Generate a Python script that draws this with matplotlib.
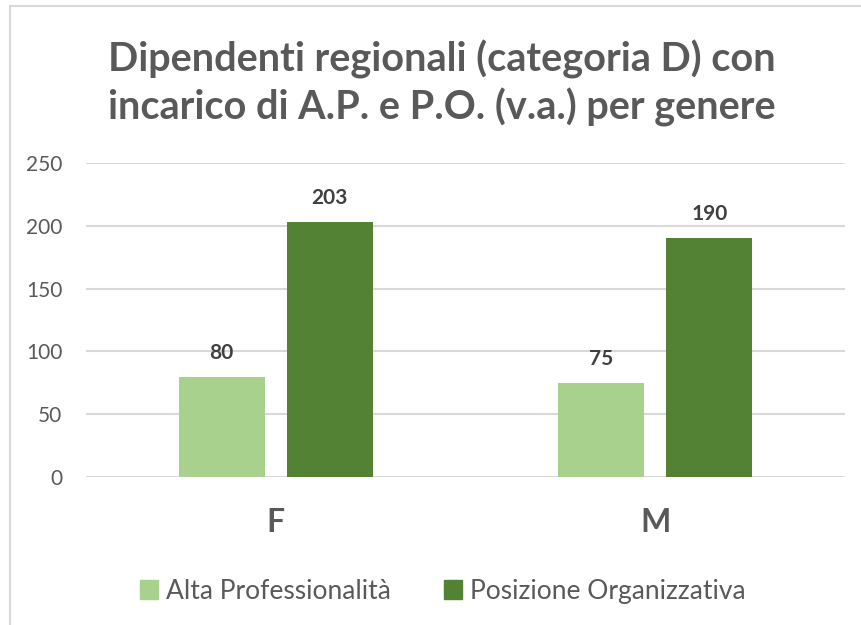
import numpy as np
import matplotlib.pyplot as plt
from matplotlib.lines import Line2D
from matplotlib.patches import Patch

categories = ['F', 'M']
series_names = ['Alta Professionalità', 'Posizione Organizzativa']
alta_prof = [80, 75]
pos_org = [203, 190]
yticks = [0, 50, 100, 150, 200, 250]

light = '#A9D18E'
dark = '#548235'
grey = '#595959'

plt.rcParams['font.family'] = ['Lato', 'DejaVu Sans']

fig = plt.figure(figsize=(8.61, 6.25), dpi=100)
ax = fig.add_axes([0.0999, 0.2368, 0.8815, 0.5024])

x = np.arange(len(categories))
w = 0.227
off = 0.1425
b1 = ax.bar(x - off, alta_prof, w, color=light, label=series_names[0], zorder=3)
b2 = ax.bar(x + off, pos_org, w, color=dark, label=series_names[1], zorder=3)

for bars in (b1, b2):
    for r in bars:
        ax.annotate(f'{int(r.get_height())}', (r.get_x() + r.get_width() / 2, r.get_height()),
                    xytext=(0, 10), textcoords='offset points', ha='center', va='bottom',
                    fontsize=15, fontweight='bold', color='#404040')

ax.set_xlim(-0.5, 1.5)
ax.set_ylim(0, 250)
ax.set_yticks(yticks)
ax.set_xticks(x)
ax.tick_params(axis='y', labelsize=15, labelcolor=grey, length=0, pad=17)
ax.tick_params(axis='x', length=0, pad=22, labelsize=23, labelcolor=grey)
ax.set_xticklabels(categories)
for lbl in ax.get_xticklabels():
    lbl.set_fontweight('bold')
ax.grid(axis='y', color='#D9D9D9', linewidth=1.5, zorder=0)
for s in ax.spines.values():
    s.set_visible(False)

fig.text(0.513, 0.866, 'Dipendenti regionali (categoria D) con\nincarico di A.P. e P.O. (v.a.) per genere',
         ha='center', va='center', fontsize=28.5, fontweight='bold', color=grey, linespacing=1.28)

handles = [Patch(color=light), Patch(color=dark)]
fig.legend(handles, series_names, loc='center', bbox_to_anchor=(0.514, 0.054), ncol=2,
           frameon=False, fontsize=19, labelcolor=grey, handlelength=0.7, handleheight=0.7,
           handletextpad=0.3, columnspacing=2.0)

# outer chart frame
fig.add_artist(Line2D([10 / 861, 10 / 861], [0, 1 - 6 / 625], transform=fig.transFigure,
                      color='#D9D9D9', linewidth=1.5))
fig.add_artist(Line2D([10 / 861, 1], [1 - 6 / 625, 1 - 6 / 625], transform=fig.transFigure,
                      color='#D9D9D9', linewidth=1.5))

fig.savefig('out.png', dpi=100)
